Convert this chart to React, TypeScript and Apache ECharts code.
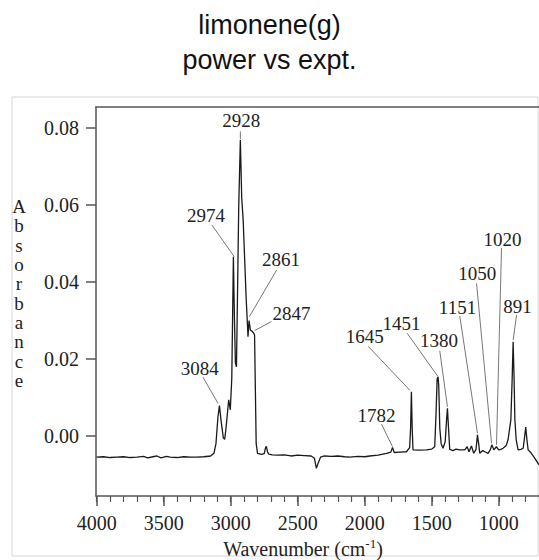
import React, { useEffect, useRef } from "react";
import * as echarts from "echarts";

// IR spectrum of gaseous limonene: wavenumber (cm^-1) and absorbance
const wavenumbers = [
  4000, 3950, 3900, 3850, 3800, 3750, 3700, 3650, 3620, 3580, 3550, 3520, 3480, 3450, 3400, 3350, 3300, 3250, 3200, 3150,
  3125, 3110, 3095, 3084, 3072, 3055, 3045, 3035, 3015, 3003, 2992, 2980, 2972, 2965, 2957, 2948, 2940, 2928, 2918, 2907,
  2885, 2878, 2871, 2863, 2853, 2840, 2829, 2822, 2816, 2810, 2800, 2770, 2750, 2740, 2734, 2725, 2715, 2690, 2650, 2600,
  2550, 2500, 2450, 2400, 2375, 2361, 2345, 2330, 2300, 2250, 2200, 2150, 2112, 2050, 2000, 1963, 1900, 1838, 1805, 1793,
  1780, 1740, 1689, 1665, 1658, 1652, 1646, 1640, 1600, 1540, 1500, 1478, 1468, 1460, 1453, 1448, 1440, 1430, 1416, 1400,
  1390, 1383, 1375, 1366, 1341, 1320, 1291, 1254, 1236, 1222, 1204, 1187, 1170, 1159, 1150, 1142, 1120, 1104, 1080, 1062,
  1052, 1037, 1018, 1000, 985, 968, 945, 931, 910, 900, 893, 886, 880, 870, 856, 835, 818, 810, 799, 790,
  781, 757, 731, 700,
];
const absorbance = [
  -0.0055, -0.0054, -0.0056, -0.0055, -0.0054, -0.0056, -0.0055, -0.0053, -0.0057, -0.0054, -0.0052, -0.0057, -0.0053, -0.0055, -0.0056, -0.0054, -0.0055, -0.0055, -0.0054, -0.0052,
  -0.0045, -0.002, 0.005, 0.0079, 0.004, -0.0005, -0.0009, 0.002, 0.0094, 0.0068, 0.015, 0.0466, 0.03, 0.019, 0.018, 0.04, 0.06, 0.0769, 0.062, 0.0561,
  0.036, 0.031, 0.0258, 0.03, 0.0275, 0.0272, 0.0268, 0.0262, 0.012, -0.002, -0.0045, -0.0048, -0.0046, -0.003, -0.0027, -0.0042, -0.0047, -0.0049, -0.005, -0.0049,
  -0.0052, -0.005, -0.0051, -0.0052, -0.0058, -0.0084, -0.0068, -0.0055, -0.0052, -0.0053, -0.0052, -0.0054, -0.0055, -0.0053, -0.0054, -0.0052, -0.005, -0.0045, -0.0042, -0.003,
  -0.0043, -0.0042, -0.0041, -0.003, 0.002, 0.0115, 0.002, -0.0036, -0.0037, -0.0036, -0.0034, -0.0028, 0.006, 0.0148, 0.0154, 0.013, 0.002, -0.002, -0.0032, -0.0015,
  0.004, 0.0072, 0.002, -0.0035, -0.0038, -0.0034, -0.0036, -0.0036, -0.0028, -0.0041, -0.0026, -0.0045, -0.0035, 0.0003, -0.002, -0.0045, -0.0038, -0.0041, -0.0045, -0.0035,
  -0.0023, -0.0036, -0.0028, -0.0036, -0.0035, -0.0032, -0.0025, -0.001, 0.0042, 0.015, 0.0245, 0.015, 0.0042, -0.001, -0.0036, -0.0035, -0.0032, -0.001, 0.0023, -0.001,
  -0.0036, -0.0045, -0.0058, -0.0075,
];

const xMajorTicks = [4000, 3500, 3000, 2500, 2000, 1500, 1000];
const xMinorTicks = [
  4000, 3900, 3800, 3700, 3600, 3500, 3400, 3300, 3200, 3100, 3000, 2900, 2800, 2700, 2600, 2500, 2400,
  2300, 2200, 2100, 2000, 1900, 1800, 1700, 1600, 1500, 1400, 1300, 1200, 1100, 1000, 900, 800,
];
const yTicks = [0, 0.02, 0.04, 0.06, 0.08];

// Peak annotations: label text and the point where each leader line ends
const peakLabels = ["2928", "2974", "2861", "2847", "3084", "1782", "1645", "1451", "1380", "1151", "1050", "1020", "891"];
const peakEndWn = [2928, 2974, 2861, 2821, 3095, 1793, 1664, 1457, 1383, 1159, 1054, 1017, 893];
const peakEndAbs = [0.0771, 0.0466, 0.031, 0.0274, 0.0085, -0.0028, 0.0119, 0.0156, 0.0076, 0.0007, -0.0019, -0.0023, 0.0249];

// Pixel offsets from the leader end: label centre (lx, ly) and leader start (sx, sy)
const labelLayout = [
  { lx: 1, ly: -19, sx: 0, sy: -8 },
  { lx: -28.3, ly: -41, sx: -22.3, sy: -31.7 },
  { lx: 31.7, ly: -56.7, sx: 27.3, sy: -46.7 },
  { lx: 36.7, ly: -17.4, sx: 16.7, sy: -9 },
  { lx: -18.3, ly: -35, sx: -15, sy: -26 },
  { lx: -16, ly: -31.7, sx: -11, sy: -22.7 },
  { lx: -45, ly: -53.3, sx: -41.7, sy: -44 },
  { lx: -36, ly: -52, sx: -30.4, sy: -42.7 },
  { lx: -8.4, ly: -66, sx: -7.7, sy: -56 },
  { lx: -20, ly: -126, sx: -17.7, sy: -117.3 },
  { lx: -14.4, ly: -169.3, sx: -15, sy: -160 },
  { lx: 6, ly: -205.7, sx: 5, sy: -196.7 },
  { lx: 4.4, ly: -34, sx: 3.4, sy: -25 },
];

const SERIF = "'Liberation Serif', 'Times New Roman', serif";
const AXIS_COLOR = "#555";
const TEXT_COLOR = "#222";

export default function App() {
  const ref = useRef<HTMLDivElement | null>(null);

  useEffect(() => {
    const el = ref.current;
    if (!el) return;
    const chart = echarts.init(el, null, { renderer: "svg" });

    const xRange = { min: 700, max: 4005 };
    const seriesData = wavenumbers.map((w, i) => [w, absorbance[i]]);

    chart.setOption({
      animation: false,
      title: {
        text: "limonene(g)\npower vs expt.",
        left: "center",
        top: 2,
        textStyle: {
          fontFamily: "'Liberation Sans', Arial, sans-serif",
          fontSize: 27,
          fontWeight: "normal",
          color: "#111",
          lineHeight: 35,
        },
      },
      grid: { left: 96, right: 0, top: 107, bottom: 64 },
      xAxis: [
        {
          type: "value",
          inverse: true,
          ...xRange,
          position: "bottom",
          axisLine: { show: true, onZero: false, lineStyle: { color: AXIS_COLOR, width: 1.5 } },
          axisTick: { show: true, customValues: xMajorTicks, length: 10, lineStyle: { color: AXIS_COLOR, width: 1.5 } },
          axisLabel: {
            customValues: xMajorTicks,
            formatter: (v: number) => String(v),
            margin: 17,
            fontFamily: SERIF,
            fontSize: 20,
            color: TEXT_COLOR,
          },
          splitLine: { show: false },
        },
        {
          type: "value",
          inverse: true,
          ...xRange,
          position: "bottom",
          axisLine: { show: false, onZero: false },
          axisTick: { show: true, customValues: xMinorTicks, length: 6, lineStyle: { color: AXIS_COLOR, width: 1.2 } },
          axisLabel: { show: false },
          splitLine: { show: false },
        },
        {
          type: "value",
          inverse: true,
          ...xRange,
          position: "top",
          axisLine: { show: true, onZero: false, lineStyle: { color: AXIS_COLOR, width: 1.5 } },
          axisTick: { show: false },
          axisLabel: { show: false },
          splitLine: { show: false },
        },
      ],
      yAxis: {
        type: "value",
        min: -0.0156,
        max: 0.0855,
        axisLine: { show: true, onZero: false, lineStyle: { color: AXIS_COLOR, width: 1.5 } },
        axisTick: { show: true, customValues: yTicks, length: 10, lineStyle: { color: AXIS_COLOR, width: 1.5 } },
        axisLabel: {
          customValues: yTicks,
          formatter: (v: number) => v.toFixed(2),
          margin: 17,
          fontFamily: SERIF,
          fontSize: 20,
          color: TEXT_COLOR,
        },
        splitLine: { show: false },
      },
      series: [
        {
          type: "line",
          xAxisIndex: 0,
          yAxisIndex: 0,
          data: seriesData,
          showSymbol: false,
          silent: true,
          lineStyle: { color: "#1a1a1a", width: 1.3 },
        },
      ],
    });

    // Peak labels with leader lines, placed from the axis scales
    const annotations: any[] = [];
    peakLabels.forEach((label, i) => {
      const p = chart.convertToPixel({ xAxisIndex: 0, yAxisIndex: 0 }, [peakEndWn[i], peakEndAbs[i]]) as number[];
      const lay = labelLayout[i];
      annotations.push({
        type: "line",
        silent: true,
        shape: { x1: p[0] + lay.sx, y1: p[1] + lay.sy, x2: p[0], y2: p[1] },
        style: { stroke: "#777", lineWidth: 1 },
      });
      annotations.push({
        type: "text",
        silent: true,
        x: p[0] + lay.lx,
        y: p[1] + lay.ly,
        style: {
          text: label,
          fontFamily: SERIF,
          fontSize: 19,
          fill: TEXT_COLOR,
          textAlign: "center",
          textVerticalAlign: "middle",
        },
      });
    });

    chart.setOption({
      graphic: [
        {
          type: "rect",
          silent: true,
          shape: { x: 12, y: 97, width: 526, height: 459 },
          style: { fill: "none", stroke: "#d6d6d6", lineWidth: 1 },
        },
        {
          type: "text",
          silent: true,
          x: 19,
          y: 197,
          style: {
            text: "A\nb\ns\no\nr\nb\na\nn\nc\ne",
            fontFamily: SERIF,
            fontSize: 19,
            lineHeight: 19.3,
            fill: TEXT_COLOR,
            textAlign: "center",
          },
        },
        {
          type: "text",
          silent: true,
          x: 303,
          y: 549,
          style: {
            text: "{a|Wavenumber (cm}{s|-1}{a|)}",
            textAlign: "center",
            textVerticalAlign: "middle",
            fill: TEXT_COLOR,
            rich: {
              a: { fontFamily: SERIF, fontSize: 20, lineHeight: 24, fill: TEXT_COLOR, color: TEXT_COLOR },
              s: { fontFamily: SERIF, fontSize: 13, lineHeight: 13, verticalAlign: "top", fill: TEXT_COLOR, color: TEXT_COLOR },
            },
          },
        },
        ...annotations,
      ],
    });

    return () => chart.dispose();
  }, []);

  return (
    <div
      ref={ref}
      style={{ position: "absolute", left: 0, top: 0, width: 539, height: 560, background: "#fff" }}
    />
  );
}
